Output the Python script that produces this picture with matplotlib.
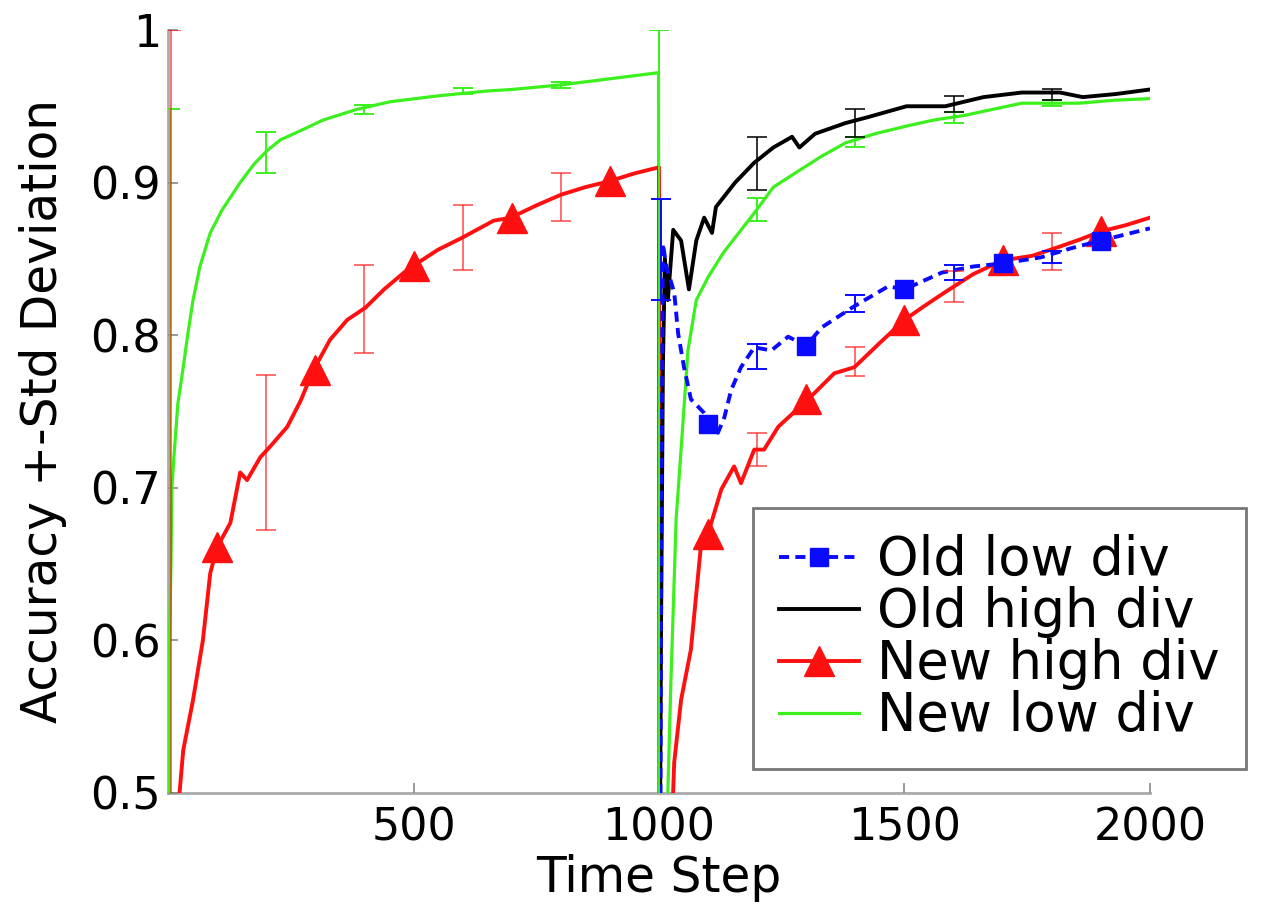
import matplotlib
matplotlib.use("Agg")
import matplotlib.pyplot as plt

# ---- data ------------------------------------------------------------------
new_high_t = [15, 24, 31, 51, 71, 86, 100, 127, 147, 161, 188, 208, 243, 270, 296, 330,
              365, 402, 440, 488, 550, 600, 663, 698, 750, 800, 850, 900, 950, 1000,
              1001, 1022, 1029, 1031, 1045, 1065, 1086, 1100, 1127, 1153, 1167, 1194,
              1214, 1243, 1270, 1304, 1357, 1398, 1450, 1500, 1540, 1582, 1640, 1700,
              1760, 1816, 1860, 1900, 1950, 2000]
new_high_v = [0.46, 0.502, 0.528, 0.561, 0.600, 0.644, 0.661, 0.677, 0.710, 0.705, 0.720,
              0.727, 0.740, 0.757, 0.777, 0.797, 0.810, 0.818, 0.830, 0.843, 0.856, 0.864,
              0.875, 0.877, 0.885, 0.892, 0.897, 0.901, 0.906, 0.910,
              0.40, 0.46, 0.502, 0.52, 0.561, 0.594, 0.664, 0.670, 0.699, 0.714, 0.703,
              0.725, 0.725, 0.740, 0.748, 0.758, 0.775, 0.779, 0.795, 0.810, 0.819, 0.828,
              0.840, 0.849, 0.852, 0.858, 0.863, 0.868, 0.872, 0.877]
new_high_mark_t = [100, 300, 500, 700, 900, 1100, 1300, 1500, 1700, 1900]
new_high_mark_v = [0.661, 0.777, 0.845, 0.877, 0.901, 0.670, 0.758, 0.810, 0.849, 0.868]
new_high_err_t = [6, 200, 400, 600, 800, 1200, 1400, 1600, 1800]
new_high_err_lo = [0.40, 0.672, 0.788, 0.843, 0.875, 0.714, 0.773, 0.822, 0.843]
new_high_err_hi = [1.00, 0.774, 0.846, 0.885, 0.906, 0.736, 0.792, 0.842, 0.867]

new_low_t = [1, 3, 6, 8, 12, 20, 31, 40, 51, 65, 86, 110, 147, 175, 202, 229, 270, 316,
             385, 453, 555, 650, 700, 800, 900, 999,
             1001, 1012, 1018, 1024, 1035, 1045, 1059, 1076, 1100, 1131, 1160, 1194, 1233,
             1286, 1330, 1380, 1440, 1504, 1560, 1622, 1680, 1739, 1800, 1855, 1930, 2000]
new_low_v = [0.45, 0.60, 0.65, 0.70, 0.72, 0.755, 0.779, 0.80, 0.823, 0.845, 0.867, 0.882,
             0.900, 0.912, 0.921, 0.928, 0.934, 0.941, 0.948, 0.953, 0.957, 0.960, 0.961,
             0.964, 0.968, 0.972,
             0.40, 0.46, 0.50, 0.57, 0.68, 0.725, 0.79, 0.823, 0.838, 0.854, 0.866, 0.880,
             0.897, 0.908, 0.917, 0.926, 0.932, 0.937, 0.941, 0.944, 0.948, 0.952, 0.952,
             0.952, 0.954, 0.955]
new_low_err_t = [5, 200, 400, 600, 800, 1000, 1200, 1400, 1600, 1800]
new_low_err_lo = [0.45, 0.906, 0.945, 0.958, 0.962, 0.40, 0.875, 0.923, 0.939, 0.950]
new_low_err_hi = [0.948, 0.933, 0.951, 0.962, 0.966, 1.00, 0.890, 0.930, 0.946, 0.954]

old_high_t = [1001, 1004, 1008, 1012, 1018, 1029, 1045, 1061, 1076, 1092, 1108, 1116, 1155,
              1194, 1233, 1271, 1286, 1318, 1380, 1427, 1504, 1583, 1661, 1739, 1817, 1863,
              1930, 2000]
old_high_v = [0.40, 0.60, 0.78, 0.85, 0.823, 0.869, 0.862, 0.830, 0.862, 0.877, 0.867, 0.884,
              0.900, 0.913, 0.923, 0.930, 0.923, 0.932, 0.939, 0.943, 0.950, 0.950, 0.956,
              0.959, 0.959, 0.956, 0.958, 0.961]
old_high_err_t = [1200, 1400, 1600, 1800]
old_high_err_lo = [0.895, 0.930, 0.946, 0.954]
old_high_err_hi = [0.930, 0.948, 0.957, 0.961]

old_low_t = [1002, 1005, 1008, 1015, 1031, 1039, 1051, 1065, 1092, 1120, 1133, 1147, 1167,
             1194, 1229, 1263, 1300, 1331, 1398, 1467, 1500, 1576, 1640, 1700, 1778, 1840,
             1900, 2000]
old_low_v = [0.40, 0.70, 0.86, 0.845, 0.828, 0.801, 0.779, 0.758, 0.749, 0.736, 0.746, 0.764,
             0.779, 0.792, 0.790, 0.799, 0.793, 0.805, 0.819, 0.832, 0.830, 0.841, 0.845,
             0.847, 0.851, 0.857, 0.862, 0.870]
old_low_mark_t = [1100, 1300, 1500, 1700, 1900]
old_low_mark_v = [0.742, 0.793, 0.830, 0.847, 0.862]
old_low_err_t = [1004, 1200, 1400, 1600, 1800]
old_low_err_lo = [0.823, 0.778, 0.815, 0.836, 0.847]
old_low_err_hi = [0.889, 0.794, 0.826, 0.846, 0.855]

x_ticks = [500, 1000, 1500, 2000]
y_ticks = [0.5, 0.6, 0.7, 0.8, 0.9, 1.0]
y_tick_labels = ["0.5", "0.6", "0.7", "0.8", "0.9", "1"]

BLUE = "#0a0aff"
GREEN = "#3cf01e"
RED = "#ff1010"


def draw_errbars(ax, ts, lo, hi, color, alpha=1.0):
    mid = [(a + b) / 2 for a, b in zip(lo, hi)]
    half = [(b - a) / 2 for a, b in zip(lo, hi)]
    ax.errorbar(ts, mid, yerr=half, fmt="none", ecolor=color, elinewidth=1.4,
                capsize=7, capthick=1.4, alpha=alpha, zorder=4)


fig = plt.figure(figsize=(12.69, 9.08), dpi=100)
ax = fig.add_axes([0.1324, 0.1267, 0.7738, 0.8403])

ax.plot(new_low_t, new_low_v, color=GREEN, lw=2.3, zorder=2)
ax.plot(new_high_t, new_high_v, color=RED, lw=2.8, zorder=3)
ax.plot(new_high_mark_t, new_high_mark_v, ls="none", marker="^", ms=21, color=RED, zorder=3)
ax.plot(old_high_t, old_high_v, color="black", lw=2.8, zorder=3)
ax.plot(old_low_t, old_low_v, color=BLUE, lw=2.8, ls=(0, (2.6, 1.6)), zorder=3)
ax.plot(old_low_mark_t, old_low_mark_v, ls="none", marker="s", ms=13, color=BLUE, zorder=3)

draw_errbars(ax, new_low_err_t, new_low_err_lo, new_low_err_hi, GREEN)
draw_errbars(ax, new_high_err_t, new_high_err_lo, new_high_err_hi, RED, alpha=0.6)
draw_errbars(ax, old_high_err_t, old_high_err_lo, old_high_err_hi, "black", alpha=0.8)
draw_errbars(ax, old_low_err_t, old_low_err_lo, old_low_err_hi, BLUE)

# legend proxies
h_old_low, = ax.plot([], [], color=BLUE, lw=2.8, ls=(0, (2.6, 1.6)), marker="s", ms=13)
h_old_high, = ax.plot([], [], color="black", lw=2.8)
h_new_high, = ax.plot([], [], color=RED, lw=2.8, marker="^", ms=21)
h_new_low, = ax.plot([], [], color=GREEN, lw=2.3)

ax.set_xlim(0, 2000)
ax.set_ylim(0.5, 1.0)
ax.set_xticks(x_ticks)
ax.set_yticks(y_ticks)
ax.set_yticklabels(y_tick_labels)
ax.tick_params(direction="in", length=7, width=1.2, color="#888888", labelsize=32)
ax.tick_params(axis="x", pad=10)
ax.tick_params(axis="y", pad=5)

for side in ("top", "right"):
    ax.spines[side].set_visible(False)
for side in ("left", "bottom"):
    ax.spines[side].set_color("#aaaaaa")
    ax.spines[side].set_linewidth(2)
    ax.spines[side].set_zorder(1)

ax.set_xlabel("Time Step", fontsize=35)
ax.set_ylabel("Accuracy +-Std Deviation", fontsize=35)
ax.xaxis.set_label_coords(0.5, -0.080)
ax.yaxis.set_label_coords(-0.103, 0.5)

leg = fig.legend([h_old_low, h_old_high, h_new_high, h_new_low],
                 ["Old low div", "Old high div", "New high div", "New low div"],
                 loc="upper left", bbox_to_anchor=(0.5934, 0.4405), fontsize=38,
                 fancybox=False, framealpha=1, edgecolor="#777777", handlelength=1.5,
                 handletextpad=0.35, labelspacing=0.0, borderpad=0.5, borderaxespad=0)
leg.get_frame().set_linewidth(2)

fig.savefig("out.png", dpi=100)
